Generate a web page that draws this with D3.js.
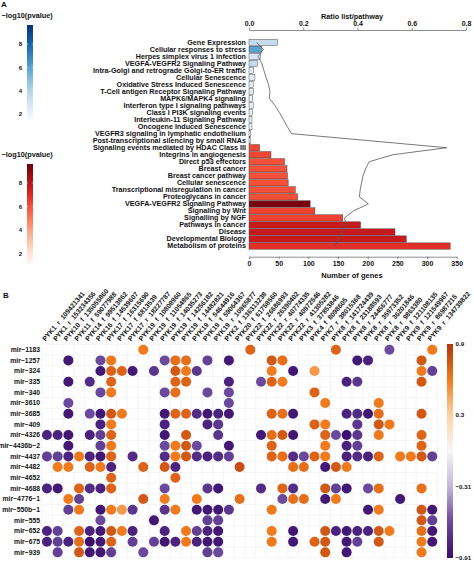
<!DOCTYPE html>
<html><head><meta charset="utf-8">
<script src="https://cdn.jsdelivr.net/npm/d3@7"></script>
<style>body{margin:0;background:#fff} svg{display:block} text{font-family:"Liberation Sans",Arial,sans-serif;fill:#111}</style>
</head><body><svg id="chart" width="474" height="561"></svg>
<script>
// ---------- Panel A data ----------
const pathways = ["Gene Expression","Cellular responses to stress","Herpes simplex virus 1 infection","VEGFA-VEGFR2 Signaling Pathway","Intra-Golgi and retrograde Golgi-to-ER traffic","Cellular Senescence","Oxidative Stress Induced Senescence","T-Cell antigen Receptor Signaling Pathway","MAPK6/MAPK4 signaling","Interferon type I signaling pathways","Class I PI3K signaling events","Interleukin-11 Signaling Pathway","Oncogene Induced Senescence","VEGFR3 signaling in lymphatic endothelium","Post-transcriptional silencing by small RNAs","Signaling events mediated by HDAC Class III","Integrins in angiogenesis","Direct p53 effectors","Breast cancer","Breast cancer pathway","Cellular senescence","Transcriptional misregulation in cancer","Proteoglycans in cancer","VEGFA-VEGFR2 Signaling Pathway","Signaling by Wnt","Signalling by NGF","Pathways in cancer","Disease","Developmental Biology","Metabolism of proteins"];
const pathwayGroup = ["blue","blue","blue","blue","blue","blue","blue","blue","blue","blue","blue","blue","blue","blue","blue","red","red","red","red","red","red","red","red","red","red","red","red","red","red","red"];
const geneCounts = [48,21,19,14,8,10,7,8,6,7,6,5,5,3,2,18,37,60,64,65,66,78,82,103,111,158,188,246,265,339];
const ratios = [0.028,0.053,0.034,0.047,0.055,0.063,0.072,0.077,0.075,0.096,0.112,0.127,0.141,0.157,0.443,0.729,0.53,0.443,0.43,0.42,0.415,0.41,0.407,0.44,0.385,0.352,0.358,0.342,0.33,0.317];
const negLogP = [3.5,6.0,2.9,3.5,2.5,2.6,2.4,2.5,2.3,2.3,2.2,2.1,2.1,2.0,1.9,6.2,6.2,6.0,6.0,6.0,6.0,6.0,6.0,9.3,6.3,6.3,7.6,7.6,7.6,6.8];
const ratioTicks = [0,0.2,0.4,0.6,0.8];
const geneTicks = [0,50,100,150,200,250,300,350];
const pvalTicks = [2,4,6,8];

// ---------- Panel B data ----------
const mirnas = ["mir−1183","mir−1257","mir−324","mir−335","mir−340","mir−3610","mir−3685","mir−409","mir−4326","mir−4436b−2","mir−4437","mir−4482","mir−4652","mir−4688","mir−4776−1","mir−550b−1","mir−555","mir−652","mir−675","mir−939"];
const pykSites = ["PYK1_r_109421341","PYK1_r_153234356","PYK10_f_135055860","PYK11_f_59077988","PYK14_f_99513862","PYK16_f_14539607","PYK17_f_16315690","PYK17_f_6813539","PYK17_r_18227787","PYK19_f_10808960","PYK19_f_11054865","PYK19_f_14035273","PYK19_f_14256182","PYK19_f_14482821","PYK19_f_54644916","PYK19_f_59064367","PYK19_r_10965877","PYK2_f_136313238","PYK20_f_61758560","PYK22_f_26686993","PYK22_r_26390402","PYK22_r_40774335","PYK22_r_40972546","PYK22_r_41305282","PYK3_f_37853846","PYK4_f_8098605","PYK7_r_38015368","PYK8_f_141724439","PYK8_f_23188593","PYK8_r_24456777","PYK8_r_35973352","PYK8_r_36201846","PYK8_r_9863380","PYK9_f_121108135","PYK9_f_121549967","PYK9_r_86987215","PYK9_r_134739822"];
// [miRNA index, site index, correlation]
const corrCells = [
[0,9,0.6],[0,19,0.7],[0,27,0.7],[0,32,-0.6],[0,36,0.6],
[1,2,-0.85],[1,5,-0.6],[1,6,0.6],[1,11,-0.6],[1,12,0.65],[1,13,0.65],[1,15,-0.65],[1,17,-0.85],[1,21,0.75],[1,22,0.65],[1,29,-0.85],[1,30,-0.8],[1,35,0.75],
[2,5,-0.85],[2,6,0.7],[2,7,0.7],[2,8,-0.85],[2,10,-0.7],[2,12,0.75],[2,13,0.6],[2,14,-0.7],[2,21,0.6],[2,23,-0.85],[2,25,0.5],[2,35,0.6],[2,36,-0.65],
[3,2,-0.85],[3,4,-0.75],[3,6,0.7],[3,12,0.7],[3,13,0.7],[3,17,-0.8],[3,20,-0.6],[3,21,0.7],[3,22,0.6],[3,28,-0.8],[3,29,-0.7],[3,35,0.75],
[4,5,-0.6],[4,6,0.6],[4,11,-0.6],[4,12,0.65],[4,15,-0.6],[4,17,-0.6],[4,25,0.7],
[5,2,-0.6],[5,17,-0.6],[5,26,0.6],[5,31,0.6],
[6,2,-0.85],[6,4,-0.6],[6,5,-0.85],[6,6,0.75],[6,7,0.6],[6,11,-0.85],[6,12,0.7],[6,13,0.7],[6,14,-0.75],[6,15,-0.85],[6,16,-0.8],[6,17,-0.85],[6,21,0.7],[6,22,0.65],[6,23,-0.85],[6,28,-0.8],[6,29,-0.75],[6,30,-0.85],[6,31,0.65],[6,35,0.75],
[7,5,-0.8],[7,6,0.6],[7,11,-0.8],[7,15,-0.8],[7,16,-0.7],[7,25,0.7],[7,26,0.6],[7,29,-0.7],[7,31,0.75],[7,32,0.6],
[8,0,-0.8],[8,1,-0.8],[8,2,-0.85],[8,4,-0.8],[8,5,-0.65],[8,6,0.7],[8,11,-0.85],[8,13,0.75],[8,16,-0.7],[8,20,-0.85],[8,21,0.65],[8,22,0.75],[8,23,-0.85],[8,26,0.7],[8,27,-0.6],[8,28,-0.9],[8,29,-0.7],[8,31,0.6],[8,35,0.7],
[9,2,-0.85],[9,5,-0.65],[9,6,0.6],[9,11,-0.6],[9,12,0.6],[9,13,0.75],[9,14,-0.6],[9,17,-0.85],[9,21,0.7],[9,26,0.6],[9,28,-0.8],[9,29,-0.65],[9,35,0.7],
[10,0,-0.65],[10,1,-0.65],[10,2,-0.8],[10,3,0.6],[10,4,-0.8],[10,5,-0.85],[10,6,0.7],[10,8,-0.75],[10,11,-0.75],[10,12,0.6],[10,13,0.75],[10,14,-0.75],[10,15,-0.8],[10,16,-0.75],[10,17,-0.65],[10,21,0.7],[10,22,0.65],[10,23,-0.75],[10,24,-0.6],[10,25,0.7],[10,26,0.6],[10,28,-0.8],[10,29,-0.75],[10,30,-0.8],[10,31,0.7],[10,33,0.6],[10,34,0.6],[10,35,0.75],[10,36,-0.65],
[11,1,0.6],[11,2,0.6],[11,4,0.7],[11,5,0.6],[11,6,-0.8],[11,9,0.7],[11,11,0.75],[11,12,-0.8],[11,18,0.8],[11,23,0.65],[11,24,0.65],[11,26,-0.85],[11,27,0.75],[11,28,0.6],
[12,6,0.7],[12,12,0.7],
[13,0,-0.8],[13,1,-0.85],[13,3,0.7],[13,4,-0.75],[13,5,-0.8],[13,6,0.7],[13,11,-0.6],[13,15,-0.7],[13,16,-0.85],[13,20,-0.75],[13,22,0.7],[13,23,-0.75],[13,26,0.75],[13,27,-0.65],[13,28,-0.85],[13,30,-0.6],[13,31,0.65],[13,35,0.65],
[14,2,0.6],[14,3,-0.65],[14,9,0.75],[14,11,0.6],[14,14,0.6],[14,18,0.65],[14,22,-0.6],[14,23,0.65],[14,24,0.65],[14,26,-0.85],[14,27,0.6],[14,33,-0.85],
[15,2,-0.65],[15,3,0.6],[15,5,-0.85],[15,6,0.6],[15,7,0.5],[15,8,-0.7],[15,11,-0.7],[15,12,0.6],[15,14,-0.85],[15,15,-0.85],[15,16,-0.85],[15,17,-0.7],[15,21,0.6],[15,30,-0.85],[15,31,0.6],[15,35,0.75],[15,36,-0.85],
[16,5,-0.6],[16,10,-0.85],[16,15,-0.65],[16,16,-0.65],[16,35,0.75],[16,36,-0.65],
[17,0,-0.8],[17,1,-0.65],[17,3,0.7],[17,4,-0.8],[17,5,-0.85],[17,6,0.75],[17,7,0.6],[17,8,-0.8],[17,11,-0.8],[17,13,0.6],[17,14,-0.65],[17,15,-0.8],[17,16,-0.85],[17,21,0.6],[17,23,-0.85],[17,26,0.75],[17,27,-0.8],[17,28,-0.85],[17,29,-0.8],[17,30,-0.8],[17,31,0.75],[17,32,0.6],[17,35,0.65],[17,36,-0.85],
[18,0,-0.8],[18,1,-0.65],[18,2,-0.8],[18,3,0.65],[18,4,-0.9],[18,5,-0.85],[18,6,0.7],[18,8,-0.65],[18,10,-0.65],[18,11,-0.85],[18,12,-0.8],[18,13,0.6],[18,14,-0.8],[18,15,-0.85],[18,16,-0.85],[18,21,0.6],[18,23,-0.85],[18,25,0.7],[18,26,0.75],[18,28,-0.85],[18,29,-0.65],[18,31,0.75],[18,35,0.6],[18,36,-0.85],
[19,1,-0.65],[19,3,0.75],[19,4,-0.85],[19,5,-0.85],[19,6,-0.65],[19,9,-0.6],[19,15,-0.65],[19,16,-0.6],[19,26,0.75],[19,28,-0.85],[19,35,0.6]
];
const corrTicks = [0.9,0.3,-0.31,-0.91];

// ---------- drawing ----------
const svg = d3.select("#chart");
const FONT = "Liberation Sans, Arial, sans-serif";

svg.append("text").attr("x",1).attr("y",7).attr("font-size",8).attr("font-weight","bold").text("A");
svg.append("text").attr("x",3).attr("y",298).attr("font-size",8).attr("font-weight","bold").text("B");

const idx = d3.range(pathways.length);
const yA = d3.scaleBand().domain(idx).range([39.2, 249.2]).paddingInner(0.1);
const xGenes = d3.scaleLinear().domain([0,350]).range([249, 456.7]);
const xRatio = d3.scaleLinear().domain([0,0.8]).range([249, 466]);
const blueScale = d3.scaleSequential(d3.interpolateBlues).domain([1.5, 9.65]);
const redScale = d3.scaleSequential(d3.interpolateReds).domain([1.2, 9.6]);

const gA = svg.append("g");
gA.selectAll("rect.bar").data(idx).join("rect").attr("class","bar")
  .attr("x", xGenes(0)).attr("y", i => yA(i))
  .attr("width", i => xGenes(geneCounts[i]) - xGenes(0))
  .attr("height", yA.bandwidth())
  .attr("fill", i => pathwayGroup[i]==="blue" ? blueScale(negLogP[i]) : redScale(negLogP[i]))
  .attr("stroke","#333").attr("stroke-width",0.4);

const yAxisA = gA.append("g").attr("transform",`translate(${xGenes(0)},0)`)
  .call(d3.axisLeft(yA).tickSize(0).tickPadding(3).tickFormat(i => pathways[i]));
yAxisA.select(".domain").remove();
yAxisA.selectAll("text").attr("font-size",7.2).attr("font-weight","bold").attr("font-family",FONT).attr("fill","#111");

const line = d3.line().x(i => xRatio(ratios[i])).y(i => yA(i) + yA.bandwidth()/2);
gA.append("path").attr("d", line(idx)).attr("fill","none").attr("stroke","#555").attr("stroke-width",0.8);

const topAx = gA.append("g").attr("transform","translate(0,30)")
  .call(d3.axisTop(xRatio).tickValues(ratioTicks).tickFormat(d3.format(".1f")).tickSize(2.5).tickSizeOuter(0).tickPadding(2));
topAx.selectAll("text").attr("font-size",7).attr("font-weight","bold").attr("font-family",FONT).attr("fill","#222");
topAx.selectAll("line,path").attr("stroke","#444").attr("stroke-width",0.6);
gA.append("text").attr("x",352).attr("y",18.5).attr("text-anchor","middle").attr("font-size",7.3).attr("font-weight","bold").text("Ratio list/pathway");

const botAx = gA.append("g").attr("transform","translate(0,256.7)")
  .call(d3.axisBottom(xGenes).tickValues(geneTicks).tickSize(2.5).tickSizeOuter(0).tickPadding(2));
botAx.selectAll("text").attr("font-size",7).attr("font-weight","bold").attr("font-family",FONT).attr("fill","#222");
botAx.selectAll("line,path").attr("stroke","#444").attr("stroke-width",0.6);
gA.append("text").attr("x",352).attr("y",277.5).attr("text-anchor","middle").attr("font-size",7.5).attr("font-weight","bold").text("Number of genes");

const defs = svg.append("defs");
function addGradient(id, scale, lo, hi) {
  const g = defs.append("linearGradient").attr("id",id).attr("x1",0).attr("x2",0).attr("y1",1).attr("y2",0);
  d3.range(0,1.0001,0.05).forEach(t => g.append("stop").attr("offset",t).attr("stop-color", scale(lo + t*(hi-lo))));
}
function pLegend(id, scale, lo, hi, yTop, yBot, titleY) {
  addGradient(id, scale, lo, hi);
  const ys = d3.scaleLinear().domain([lo,hi]).range([yBot,yTop]);
  svg.append("text").attr("x",1.5).attr("y",titleY).attr("font-size",7.3).attr("font-weight","bold").text("−log10(pvalue)");
  svg.append("rect").attr("x",27).attr("y",yTop).attr("width",6).attr("height",yBot-yTop).attr("fill",`url(#${id})`);
  pvalTicks.forEach(t => {
    svg.append("text").attr("x",22).attr("y",ys(t)).attr("dy","0.35em").attr("text-anchor","end")
      .attr("font-size",6).attr("font-weight","bold").attr("fill","#333").text(t);
    svg.append("line").attr("x1",27).attr("x2",28.3).attr("y1",ys(t)).attr("y2",ys(t)).attr("stroke","#fff").attr("stroke-width",0.5);
    svg.append("line").attr("x1",31.7).attr("x2",33).attr("y1",ys(t)).attr("y2",ys(t)).attr("stroke","#fff").attr("stroke-width",0.5);
  });
}
pLegend("gBlue", blueScale, 1.5, 9.65, 25, 120, 17.5);
pLegend("gRed", redScale, 1.2, 9.6, 164, 263, 156.5);

// ---------- Panel B ----------
const xB = d3.scaleBand().domain(d3.range(pykSites.length)).range([41.6, 437.6]);
const yB = d3.scaleBand().domain(d3.range(mirnas.length)).range([344.4, 557.7]);
const corrColor = d3.scaleLinear()
  .domain([-0.91,-0.6,-0.31,0,0.3,0.6,0.9])
  .range(["#3a0c6c","#6a4a9c","#c3b6da","#f7f7f7","#fdd3a6","#ef7b1e","#b2360d"]).clamp(true);

const gB = svg.append("g");
d3.range(pykSites.length+1).forEach(i => {
  const x = 41.6 + i*xB.bandwidth();
  gB.append("line").attr("x1",x).attr("x2",x).attr("y1",344.4).attr("y2",557.7).attr("stroke","#ebebeb").attr("stroke-width",0.5);
});
d3.range(mirnas.length+1).forEach(j => {
  const y = 344.4 + j*yB.bandwidth();
  gB.append("line").attr("x1",41.6).attr("x2",437.6).attr("y1",y).attr("y2",y).attr("stroke","#ebebeb").attr("stroke-width",0.5);
});
gB.selectAll("circle").data(corrCells).join("circle")
  .attr("cx", d => xB(d[1]) + xB.bandwidth()/2)
  .attr("cy", d => yB(d[0]) + yB.bandwidth()/2)
  .attr("r", 5)
  .attr("fill", d => corrColor(d[2]));
gB.selectAll("text.row").data(mirnas).join("text").attr("class","row")
  .attr("x", 40).attr("y", (d,i) => yB(i) + yB.bandwidth()/2).attr("dy","0.35em")
  .attr("text-anchor","end").attr("font-size",6.8).attr("font-weight","bold").text(d => d);
gB.selectAll("text.col").data(pykSites).join("text").attr("class","col")
  .attr("transform", (d,i) => `translate(${xB(i) + xB.bandwidth()/2 - 1.5},341.5) rotate(-50)`)
  .attr("font-size",6.8).attr("font-weight","bold").attr("fill","#222").text(d => d);

const cbTop = 344, cbBot = 558;
const yCb = d3.scaleLinear().domain([-0.91,0.9]).range([cbBot,cbTop]);
const gradB = defs.append("linearGradient").attr("id","gCorr").attr("x1",0).attr("x2",0).attr("y1",1).attr("y2",0);
d3.range(0,1.0001,0.025).forEach(t => gradB.append("stop").attr("offset",t).attr("stop-color", corrColor(-0.91 + t*1.81)));
svg.append("rect").attr("x",447).attr("y",cbTop).attr("width",6).attr("height",cbBot-cbTop).attr("fill","url(#gCorr)");
corrTicks.forEach(t => {
  svg.append("text").attr("x",455.5).attr("y",yCb(t)).attr("dy","0.35em").attr("font-size",6.2).attr("font-weight","bold").attr("fill","#333")
    .text(d3.format(".2~f")(t).replace("-","−"));
});
</script></body></html>
